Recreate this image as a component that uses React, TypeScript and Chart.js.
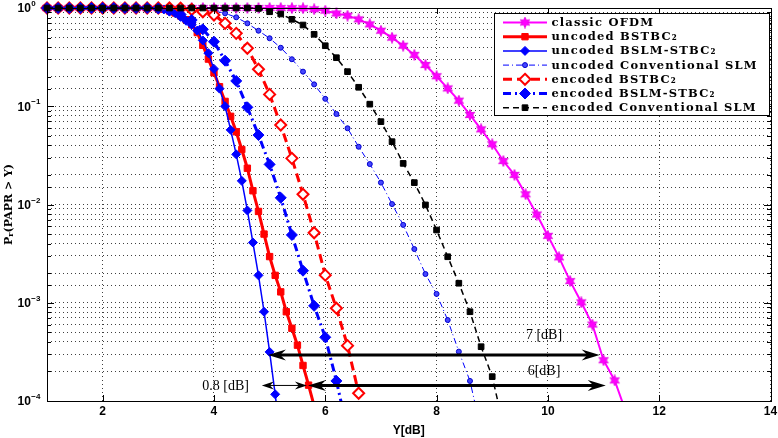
import React, { useEffect, useRef } from 'react';
import { Chart, registerables } from 'chart.js';

Chart.register(...registerables);

// ---------- data (x = Y[dB], y = Pr(PAPR > Y)) ----------
const classicOFDM: [number, number][] = [
  [1.0, 1], [1.2, 1], [1.4, 1], [1.6, 1], [1.8, 1], [2.0, 1], [2.2, 1], [2.4, 1], [2.6, 1], [2.8, 1],
  [3.0, 1], [3.2, 1], [3.4, 1], [3.6, 1], [3.8, 1], [4.0, 1], [4.2, 1], [4.4, 1], [4.6, 1], [4.8, 1],
  [5.0, 1], [5.2, 0.999], [5.4, 0.997], [5.6, 0.993], [5.8, 0.97], [6.0, 0.94], [6.2, 0.88], [6.4, 0.836],
  [6.6, 0.767], [6.8, 0.682], [7.0, 0.587], [7.2, 0.499], [7.4, 0.413], [7.6, 0.333], [7.8, 0.263],
  [8.0, 0.202], [8.2, 0.152], [8.4, 0.114], [8.6, 0.0815], [8.8, 0.0582], [9.0, 0.041], [9.2, 0.0277],
  [9.4, 0.02], [9.6, 0.0127], [9.8, 0.0079], [10.0, 0.0048], [10.2, 0.0029], [10.4, 0.00166],
  [10.6, 0.00101], [10.8, 0.0006], [11.0, 0.00026], [11.2, 0.000162], [11.4, 0.000078],
];

const uncodedBSTBC2: [number, number][] = [
  [1.0, 1], [1.2, 1], [1.4, 1], [1.6, 1], [1.8, 1], [2.0, 1], [2.2, 1], [2.4, 1], [2.6, 1], [2.8, 0.998],
  [3.0, 0.99], [3.1, 0.97], [3.2, 0.933], [3.3, 0.89], [3.4, 0.83], [3.5, 0.76], [3.6, 0.676], [3.7, 0.562],
  [3.8, 0.417], [3.9, 0.302], [4.0, 0.219], [4.1, 0.158], [4.2, 0.112], [4.3, 0.079], [4.4, 0.055],
  [4.5, 0.0363], [4.6, 0.0234], [4.7, 0.0138], [4.8, 0.0085], [4.9, 0.005], [5.0, 0.00295], [5.1, 0.0019],
  [5.2, 0.00129], [5.3, 0.00081], [5.4, 0.00055], [5.5, 0.00037], [5.6, 0.00023], [5.7, 0.000145],
  [5.8, 0.000089],
];

const uncodedBSLM: [number, number][] = [
  [1.0, 1], [1.2, 1], [1.4, 1], [1.6, 1], [1.8, 1], [2.0, 1], [2.2, 1], [2.4, 1], [2.6, 1], [2.8, 0.998],
  [3.0, 0.99], [3.1, 0.966], [3.2, 0.933], [3.3, 0.891], [3.4, 0.813], [3.5, 0.741], [3.6, 0.676],
  [3.7, 0.589], [3.8, 0.468], [3.9, 0.347], [4.0, 0.24], [4.1, 0.151], [4.2, 0.1], [4.3, 0.0575],
  [4.4, 0.0324], [4.5, 0.0174], [4.6, 0.0087], [4.7, 0.0041], [4.8, 0.0019], [4.9, 0.00081],
  [5.0, 0.000316], [5.1, 0.000117], [5.2, 0.00004],
];

const uncodedConvSLM: [number, number][] = [
  [1.0, 1], [1.2, 1], [1.4, 1], [1.6, 1], [1.8, 1], [2.0, 1], [2.2, 1], [2.4, 1], [2.6, 1], [2.8, 1],
  [3.0, 1], [3.2, 1], [3.4, 1], [3.6, 0.995], [3.8, 0.966], [4.0, 0.933], [4.2, 0.883], [4.4, 0.804],
  [4.6, 0.698], [4.8, 0.587], [5.0, 0.492], [5.2, 0.394], [5.4, 0.301], [5.6, 0.225], [5.8, 0.167],
  [6.0, 0.119], [6.2, 0.0834], [6.4, 0.0597], [6.6, 0.0387], [6.8, 0.0258], [7.0, 0.0167], [7.2, 0.0101],
  [7.4, 0.0062], [7.6, 0.00352], [7.8, 0.00196], [8.0, 0.00123], [8.2, 0.000667], [8.4, 0.000318],
  [8.6, 0.00016], [8.8, 0.00005],
];

const encodedBSTBC2: [number, number][] = [
  [1.0, 1], [1.2, 1], [1.4, 1], [1.6, 1], [1.8, 1], [2.0, 1], [2.2, 1], [2.4, 1], [2.6, 1], [2.8, 1],
  [3.0, 1], [3.2, 1], [3.4, 0.995], [3.6, 0.966], [3.8, 0.916], [4.0, 0.849], [4.2, 0.698], [4.4, 0.552],
  [4.6, 0.389], [4.8, 0.238], [5.0, 0.132], [5.2, 0.0644], [5.4, 0.0295], [5.6, 0.0127], [5.8, 0.00516],
  [6.0, 0.00191], [6.2, 0.00088], [6.4, 0.000366], [6.6, 0.00012],
];

const encodedBSLM: [number, number][] = [
  [1.0, 1], [1.2, 1], [1.4, 1], [1.6, 1], [1.8, 1], [2.0, 1], [2.2, 1], [2.4, 1], [2.6, 1], [2.8, 1],
  [3.0, 0.99], [3.2, 0.94], [3.4, 0.86], [3.6, 0.755], [3.8, 0.607], [4.0, 0.454], [4.2, 0.291],
  [4.4, 0.181], [4.6, 0.0975], [4.8, 0.0509], [5.0, 0.0256], [5.2, 0.0117], [5.4, 0.0049], [5.6, 0.00212],
  [5.8, 0.00093], [6.0, 0.000445], [6.2, 0.00016], [6.4, 0.00005],
];

const encodedConvSLM: [number, number][] = [
  [1.0, 1], [1.2, 1], [1.4, 1], [1.6, 1], [1.8, 1], [2.0, 1], [2.2, 1], [2.4, 1], [2.6, 1], [2.8, 1],
  [3.0, 1], [3.2, 1], [3.4, 1], [3.6, 1], [3.8, 1], [4.0, 1], [4.2, 1], [4.4, 1], [4.6, 1], [4.8, 0.99],
  [5.0, 0.916], [5.2, 0.869], [5.4, 0.767], [5.6, 0.671], [5.8, 0.54], [6.0, 0.413], [6.2, 0.312],
  [6.4, 0.225], [6.6, 0.156], [6.8, 0.105], [7.0, 0.0697], [7.2, 0.0436], [7.4, 0.0262], [7.6, 0.0167],
  [7.8, 0.0099], [8.0, 0.0055], [8.2, 0.00294], [8.4, 0.00158], [8.6, 0.00081], [8.8, 0.000357],
  [9.0, 0.000177], [9.2, 0.000056],
];

const seriesLabels = [
  'classic OFDM',
  'uncoded BSTBC\u2082',
  'uncoded BSLM-STBC\u2082',
  'uncoded Conventional SLM',
  'encoded BSTBC\u2082',
  'encoded BSLM-STBC\u2082',
  'encoded Conventional SLM',
];

const xTicks = [2, 4, 6, 8, 10, 12, 14];
const yDecades = [0, -1, -2, -3, -4];

// annotations (data coordinates)
const arrows = [
  { from: 4.97, to: 10.93, at: 2.94e-4, width: 3, head: 18, half: 5.5 },
  { from: 5.69, to: 11.04, at: 1.44e-4, width: 3, head: 18, half: 5.5 },
  { from: 4.86, to: 5.67, at: 1.44e-4, width: 1, head: 12, half: 4 },
];
const arrowTexts = [
  { text: '7 [dB]', x: 9.93, y: 4.7e-4, align: 'center' },
  { text: '6[dB]', x: 9.93, y: 2.02e-4, align: 'center' },
  { text: '0.8 [dB]', x: 4.63, y: 1.42e-4, align: 'right' },
];

// ---------- helpers ----------
const SANS = '"Liberation Sans", Arial, sans-serif';
const SERIF = '"Liberation Serif", "Times New Roman", serif';
const SERIF_B = '"DejaVu Serif", serif';

function makeStar(size: number, color: string): HTMLCanvasElement {
  const c = document.createElement('canvas');
  c.width = size;
  c.height = size;
  const g = c.getContext('2d')!;
  const cx = size / 2, cy = size / 2, R = size / 2 - 0.5, r = R * 0.5;
  g.beginPath();
  for (let i = 0; i < 12; i++) {
    const a = -Math.PI / 2 + (i * Math.PI) / 6;
    const rr = i % 2 === 0 ? R : r;
    g.lineTo(cx + rr * Math.cos(a), cy + rr * Math.sin(a));
  }
  g.closePath();
  g.fillStyle = color;
  g.fill();
  g.strokeStyle = '#e000e0';
  g.lineWidth = 0.8;
  g.stroke();
  return c;
}

function drawMarker(ctx: CanvasRenderingContext2D, ds: any, x: number, y: number) {
  const style = ds.pointStyle;
  const r = ds.pointRadius;
  ctx.save();
  ctx.setLineDash([]);
  ctx.fillStyle = ds.pointBackgroundColor;
  ctx.strokeStyle = ds.pointBorderColor;
  ctx.lineWidth = ds.pointBorderWidth;
  if (typeof style !== 'string') {
    ctx.drawImage(style, x - style.width / 2, y - style.height / 2);
  } else {
    ctx.beginPath();
    if (style === 'rect') {
      const s = Math.SQRT1_2 * r;
      ctx.rect(x - s, y - s, 2 * s, 2 * s);
    } else if (style === 'rectRot') {
      ctx.moveTo(x, y - r);
      ctx.lineTo(x + r, y);
      ctx.lineTo(x, y + r);
      ctx.lineTo(x - r, y);
      ctx.closePath();
    } else {
      ctx.arc(x, y, r, 0, Math.PI * 2);
    }
    ctx.fill();
    if (ds.pointBorderWidth > 0) ctx.stroke();
  }
  ctx.restore();
}

function arrowHead(ctx: CanvasRenderingContext2D, tipX: number, y: number, dir: number, len: number, half: number) {
  ctx.beginPath();
  ctx.moveTo(tipX, y);
  ctx.lineTo(tipX + dir * len, y - half);
  ctx.lineTo(tipX + dir * len * 0.68, y);
  ctx.lineTo(tipX + dir * len, y + half);
  ctx.closePath();
  ctx.fill();
}

const overlayPlugin = {
  id: 'overlay',
  afterDraw(chart: any) {
    const ctx: CanvasRenderingContext2D = chart.ctx;
    const { left, right, top, bottom } = chart.chartArea;
    const xs = chart.scales.x;
    const ys = chart.scales.y;
    const L = Math.round(left), R = Math.round(right), T = Math.round(top), B = Math.round(bottom);
    ctx.save();
    ctx.setLineDash([]);
    ctx.strokeStyle = '#000';
    ctx.lineWidth = 1;

    // inward tick marks
    ctx.beginPath();
    ys.ticks.forEach((t: any) => {
      const lg = Math.log10(t.value);
      const major = Math.abs(lg - Math.round(lg)) < 1e-6;
      const len = major ? 7 : 4;
      const p = Math.round(ys.getPixelForValue(t.value)) + 0.5;
      ctx.moveTo(L, p); ctx.lineTo(L + len, p);
      ctx.moveTo(R, p); ctx.lineTo(R - len, p);
    });
    xTicks.forEach((v) => {
      const p = Math.round(xs.getPixelForValue(v)) + 0.5;
      ctx.moveTo(p, B); ctx.lineTo(p, B - 6);
      ctx.moveTo(p, T); ctx.lineTo(p, T + 6);
    });
    ctx.stroke();

    // frame
    ctx.strokeRect(L + 0.5, T + 0.5, R - L, B - T);

    // y tick labels 10^n
    ctx.fillStyle = '#000';
    yDecades.forEach((e) => {
      const p = ys.getPixelForValue(Math.pow(10, e));
      ctx.font = `bold 12px ${SANS}`;
      ctx.textAlign = 'left';
      ctx.textBaseline = 'middle';
      ctx.fillText('10', 17.5, p + 1);
      const w = ctx.measureText('10').width;
      ctx.font = `bold 8px ${SANS}`;
      ctx.fillText(e === 0 ? '0' : '\u2212' + String(-e), 17.5 + w + 0.5, p - 4);
    });

    // y axis title
    ctx.save();
    ctx.translate(9, (T + B) / 2);
    ctx.rotate(-Math.PI / 2);
    ctx.textBaseline = 'middle';
    ctx.textAlign = 'left';
    const fBig = `bold 11px ${SERIF_B}`;
    const fSmall = `bold 8px ${SERIF_B}`;
    ctx.font = fBig;
    const wP = ctx.measureText('P').width;
    const rest = '(PAPR > Y)';
    const wRest = ctx.measureText(rest).width;
    ctx.font = fSmall;
    const wr = ctx.measureText('r').width;
    const total = wP + wr + wRest;
    let cx = -total / 2;
    ctx.font = fBig;
    ctx.fillText('P', cx, 0);
    cx += wP;
    ctx.font = fSmall;
    ctx.fillText('r', cx, 2);
    cx += wr;
    ctx.font = fBig;
    ctx.fillText(rest, cx, 0);
    ctx.restore();

    // annotations
    ctx.fillStyle = '#000';
    ctx.strokeStyle = '#000';
    arrows.forEach((a) => {
      const x1 = xs.getPixelForValue(a.from);
      const x2 = xs.getPixelForValue(a.to);
      const y = ys.getPixelForValue(a.at);
      ctx.lineWidth = a.width;
      ctx.beginPath();
      ctx.moveTo(x1 + a.head * 0.6, y);
      ctx.lineTo(x2 - a.head * 0.6, y);
      ctx.stroke();
      arrowHead(ctx, x1, y, 1, a.head, a.half);
      arrowHead(ctx, x2, y, -1, a.head, a.half);
    });
    ctx.font = `14px ${SERIF}`;
    ctx.textBaseline = 'middle';
    arrowTexts.forEach((t) => {
      ctx.textAlign = t.align as CanvasTextAlign;
      ctx.fillText(t.text, xs.getPixelForValue(t.x), ys.getPixelForValue(t.y));
    });

    // legend
    const bx = 494, by = 13, bw = 275, bh = 102;
    ctx.fillStyle = '#fff';
    ctx.fillRect(bx, by, bw, bh);
    ctx.lineWidth = 1;
    ctx.strokeStyle = '#000';
    ctx.strokeRect(bx + 0.5, by + 0.5, bw, bh);
    const lf = `bold 11.5px ${SERIF_B}`;
    ctx.font = lf;
    (ctx as any).letterSpacing = '0px';
    const longest = ctx.measureText('encoded Conventional SLM').width;
    const ls = Math.max(0, Math.min(3, (204 - longest) / 23));
    chart.data.datasets.forEach((ds: any, i: number) => {
      const y = 22.5 + i * 14.2;
      ctx.save();
      ctx.strokeStyle = ds.borderColor;
      ctx.lineWidth = ds.borderWidth;
      ctx.setLineDash(ds.borderDash || []);
      ctx.beginPath();
      ctx.moveTo(503, y);
      ctx.lineTo(547, y);
      ctx.stroke();
      ctx.restore();
      drawMarker(ctx, ds, 525, y);
      ctx.fillStyle = '#000';
      ctx.font = lf;
      (ctx as any).letterSpacing = ls + 'px';
      ctx.textAlign = 'left';
      ctx.textBaseline = 'middle';
      ctx.fillText(ds.label, 551.5, y + 0.5);
      (ctx as any).letterSpacing = '0px';
    });
    ctx.restore();
  },
};

export default function App() {
  const ref = useRef<HTMLCanvasElement | null>(null);

  useEffect(() => {
    if (!ref.current) return;
    const star = makeStar(12, '#ff00ff');
    const toXY = (arr: [number, number][]) => arr.map(([x, y]) => ({ x, y }));
    const clip = { left: 12, top: 12, right: 12, bottom: 0 };
    const base = { showLine: true, tension: 0, fill: false, clip };

    const datasets: any[] = [
      {
        ...base, label: seriesLabels[0], data: toXY(classicOFDM), borderColor: '#ff00ff', borderWidth: 2,
        pointStyle: star, pointRadius: 5, pointBackgroundColor: '#ff00ff', pointBorderColor: '#ff00ff', pointBorderWidth: 0,
      },
      {
        ...base, label: seriesLabels[1], data: toXY(uncodedBSTBC2), borderColor: '#ff0000', borderWidth: 3,
        pointStyle: 'rect', pointRadius: 4.5, pointBackgroundColor: '#ff0000', pointBorderColor: '#ff0000', pointBorderWidth: 1,
      },
      {
        ...base, label: seriesLabels[2], data: toXY(uncodedBSLM), borderColor: '#0000ff', borderWidth: 1.5,
        pointStyle: 'rectRot', pointRadius: 4.5, pointBackgroundColor: '#0000ff', pointBorderColor: '#0000ff', pointBorderWidth: 1,
      },
      {
        ...base, label: seriesLabels[3], data: toXY(uncodedConvSLM), borderColor: '#0000ff', borderWidth: 1,
        borderDash: [6, 3, 1, 3],
        pointStyle: 'circle', pointRadius: 2.5, pointBackgroundColor: '#4646ff', pointBorderColor: '#0000cc', pointBorderWidth: 1,
      },
      {
        ...base, label: seriesLabels[4], data: toXY(encodedBSTBC2), borderColor: '#ff0000', borderWidth: 3,
        borderDash: [9, 5],
        pointStyle: 'rectRot', pointRadius: 5.5, pointBackgroundColor: '#ffffff', pointBorderColor: '#ff0000', pointBorderWidth: 2,
      },
      {
        ...base, label: seriesLabels[5], data: toXY(encodedBSLM), borderColor: '#0000ff', borderWidth: 3,
        borderDash: [8, 4, 2, 4],
        pointStyle: 'rectRot', pointRadius: 5.5, pointBackgroundColor: '#0000ff', pointBorderColor: '#0000ff', pointBorderWidth: 1,
      },
      {
        ...base, label: seriesLabels[6], data: toXY(encodedConvSLM), borderColor: '#000000', borderWidth: 1.5,
        borderDash: [6, 4],
        pointStyle: 'rect', pointRadius: 4, pointBackgroundColor: '#000000', pointBorderColor: '#000000', pointBorderWidth: 1,
      },
    ];
    datasets.forEach((d, i) => { d.order = datasets.length - i; });

    const chart = new Chart(ref.current, {
      type: 'line',
      data: { datasets },
      options: {
        responsive: false,
        animation: false,
        devicePixelRatio: 1,
        layout: { padding: { left: 0, right: 6, top: 8, bottom: 0 } },
        plugins: { legend: { display: false }, tooltip: { enabled: false } },
        scales: {
          x: {
            type: 'linear',
            min: 1,
            max: 14,
            afterBuildTicks: (s: any) => { s.ticks = xTicks.map((v) => ({ value: v })); },
            afterFit: (s: any) => { s.height = 37; s.paddingLeft = 0; s.paddingRight = 0; },
            ticks: { color: '#000', font: { family: SANS, size: 12, weight: 'bold' }, padding: 3, maxRotation: 0, autoSkip: false },
            grid: { color: 'rgba(0,0,0,0.75)', lineWidth: 1, drawTicks: false },
            border: { display: false, dash: [1, 3] },
            title: { display: true, text: 'Y[dB]', color: '#000', font: { family: SANS, size: 12, weight: 'bold' }, padding: { top: 0, bottom: 0 } },
          },
          y: {
            type: 'logarithmic',
            min: 1e-4,
            max: 1,
            afterFit: (s: any) => { s.width = 47; s.paddingTop = 0; s.paddingBottom = 0; },
            ticks: { display: false },
            grid: { color: 'rgba(0,0,0,0.75)', lineWidth: 1, drawTicks: false },
            border: { display: false, dash: [1, 3] },
          },
        },
      } as any,
      plugins: [overlayPlugin],
    });
    return () => chart.destroy();
  }, []);

  return (
    <div style={{ position: 'fixed', left: 0, top: 0, width: 778, height: 438, background: '#fff' }}>
      <canvas ref={ref} width={778} height={438} style={{ display: 'block' }} />
    </div>
  );
}
